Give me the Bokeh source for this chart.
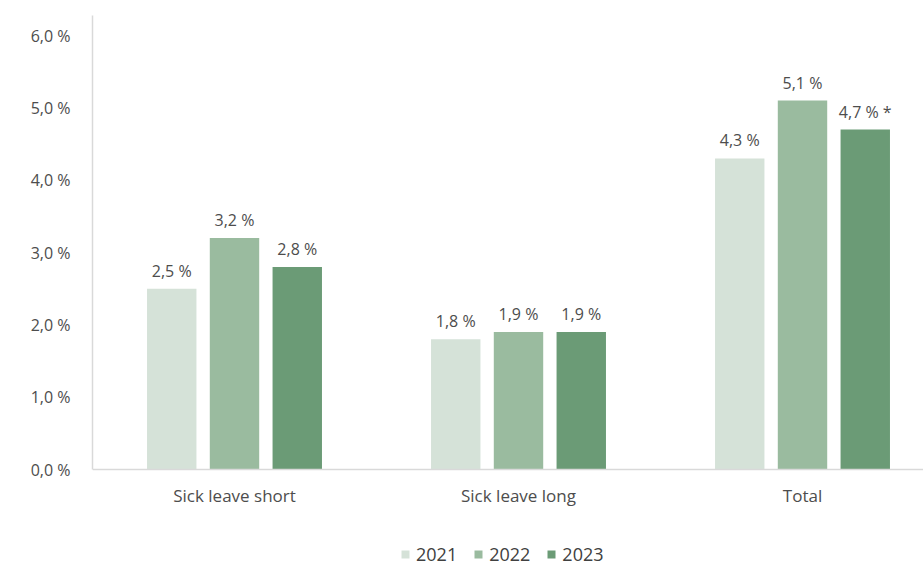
from bokeh.plotting import figure
from bokeh.models import ColumnDataSource, Range1d, FixedTicker, Legend, LegendItem, LabelSet
from bokeh.embed import file_html
from bokeh.resources import INLINE
from bokeh.core.properties import value

categories = ["Sick leave short", "Sick leave long", "Total"]
years = ["2021", "2022", "2023"]
v2021 = [2.5, 1.8, 4.3]
v2022 = [3.2, 1.9, 5.1]
v2023 = [2.8, 1.9, 4.7]
notes2023 = ["", "", " *"]
y_ticks = [0, 1, 2, 3, 4, 5, 6]
colors = ["#d5e2d8", "#9abb9f", "#6b9b76"]

FONT = "Open Sans"
TXT = "#4d4d4d"

PX = 72.33  # pixels per percentage point
p = figure(width=923, height=567, frame_width=831, frame_height=552,
           output_backend="svg", toolbar_location=None,
           x_range=Range1d(0, 831 / 284.0), y_range=Range1d(-98 / PX, 454 / PX),
           min_border_left=92, min_border_right=0, min_border_top=15, min_border_bottom=0)
p.outline_line_color = None
p.xgrid.visible = False
p.ygrid.visible = False
p.background_fill_color = "white"
p.border_fill_color = "white"

xs = [i + 0.5 for i in range(len(categories))]
offsets = [-0.221, 0.0, 0.221]
series = [v2021, v2022, v2023]
notes = [[""] * len(categories), [""] * len(categories), notes2023]
items = []
for k, (yr, vals, off, col, nt) in enumerate(zip(years, series, offsets, colors, notes)):
    src = ColumnDataSource(dict(
        x=[x + off for x in xs], top=vals,
        lab=[f"{v:.1f}".replace(".", ",") + " %" + n for v, n in zip(vals, nt)]))
    r = p.vbar(x="x", top="top", width=0.174, bottom=0, source=src, fill_color=col, line_color=None)
    items.append(LegendItem(label=yr, renderers=[r]))
    p.add_layout(LabelSet(x="x", y="top", text="lab", source=src, text_align="center",
                          text_baseline="bottom", y_offset=7, text_font=value(FONT),
                          text_font_size="16px", text_color=TXT))

p.yaxis.ticker = FixedTicker(ticks=y_ticks)
p.yaxis.major_label_overrides = {t: f"{t:.1f}".replace(".", ",") + " %" for t in y_ticks}
p.yaxis.bounds = (0, 454 / PX)
p.xaxis.ticker = FixedTicker(ticks=xs)
p.xaxis.major_label_overrides = {x: c for x, c in zip(xs, categories)}
p.xaxis.fixed_location = 0
for ax in (p.xaxis, p.yaxis):
    ax.axis_line_color = "#d9d9d9"
    ax.axis_line_width = 1.5
    ax.major_tick_line_color = None
    ax.minor_tick_line_color = None
    ax.major_label_text_font = FONT
    ax.major_label_text_font_size = "16px"
    ax.major_label_text_color = TXT
p.xaxis.major_label_text_font_size = "17px"
p.yaxis.major_label_standoff = 16
p.xaxis.major_label_standoff = 8

legend = Legend(items=items, orientation="horizontal", location=(308, 1),
                label_text_font=FONT, label_text_font_size="18px", label_text_color="#404040",
                glyph_width=10, glyph_height=10, label_standoff=6, spacing=16,
                border_line_color=None, background_fill_alpha=0, margin=0, padding=0)
legend.label_height = 18
p.add_layout(legend, "center")

open("out.html", "w").write(file_html(p, INLINE))
